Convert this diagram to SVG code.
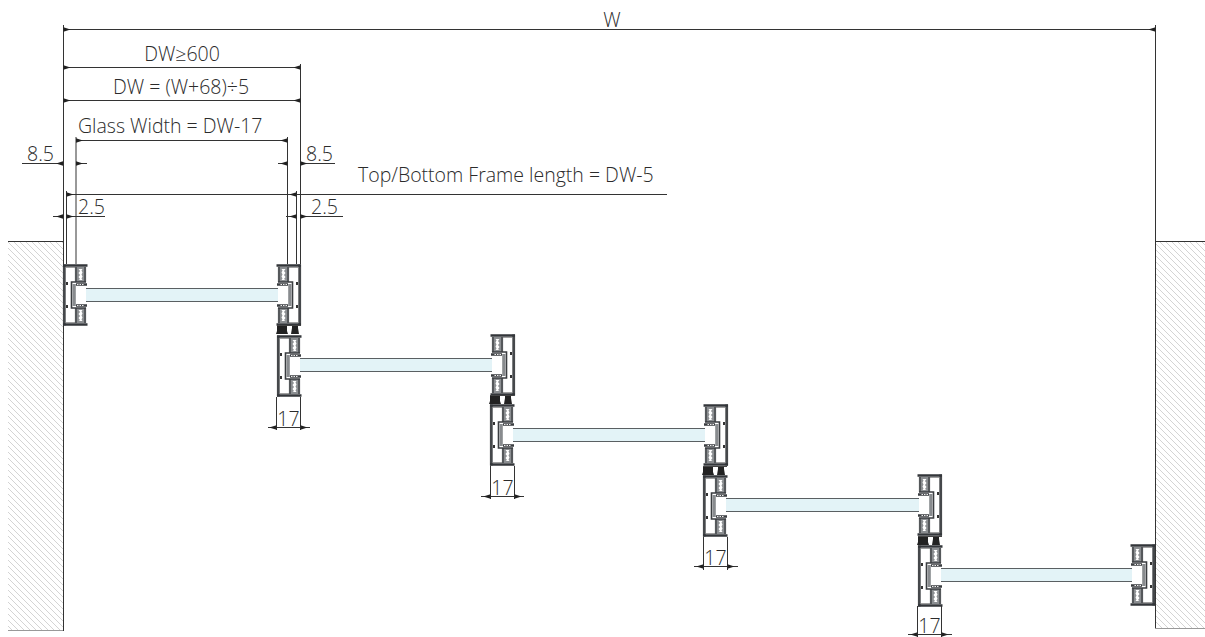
<svg xmlns="http://www.w3.org/2000/svg" xmlns:xlink="http://www.w3.org/1999/xlink" width="1205" height="637" viewBox="0 0 1205 637">
<style>
text{font-family:"Open Sans","Noto Sans","Liberation Sans",sans-serif;font-weight:300;font-size:19.5px;fill:#2b2b2b}
.d{stroke:#333;stroke-width:1;fill:none}
.a{marker-end:url(#arr)}
.glass{fill:#e3f3f7;stroke:#5a5f62;stroke-width:1}
.wall{stroke:#333;stroke-width:1;fill:none}
.edge{stroke:#999;stroke-width:1;fill:none}
</style>
<defs>
<marker id="arr" markerUnits="userSpaceOnUse" markerWidth="8" markerHeight="6" refX="7" refY="3" orient="auto"><path d="M0 3L7 0.8V5.2Z" fill="#222"/></marker>
<pattern id="hatch" patternUnits="userSpaceOnUse" width="6" height="6"><path d="M-1 -1L7 7M-7 -1L1 7M5 -1L13 7" stroke="#cfcfcf" stroke-width="0.9" fill="none"/></pattern>
<g id="profile">
<path d="M1.300 0.500V61.500" stroke="#45484b" stroke-width="2.800" fill="none"/>
<path d="M0 1.500H24.500M0 60.500H24.500" stroke="#33363a" stroke-width="2.400" fill="none"/>
<path d="M3 3.500H12M3 58.500H12" stroke="#888" stroke-width="0.800" fill="none"/>
<path d="M13 3V18M13 44V59M22 3V18M22 44V59" stroke="#55585b" stroke-width="2.200" fill="none"/>
<rect x="14" y="3" width="7" height="15" fill="#8b8e91"/><rect x="14" y="44" width="7" height="15" fill="#8b8e91"/>
<path d="M15.500 5l1.500 2l-1.500 2l1.500 2l-1.500 2l1.500 2l-1.500 1h4l-1-1.500l1-2l-1-2l1-2l-1-2l1-1.500ZM15.500 46l1.500 2l-1.500 2l1.500 2l-1.500 2l1.500 2l-1.500 1h4l-1-1.500l1-2l-1-2l1-2l-1-2l1-1.500Z" fill="#fff"/>
<path d="M23 18H8.500V44H23" stroke="#3a3d40" stroke-width="1.600" fill="#fff"/>
<path d="M9.500 20H12.800V42H9.500Z" fill="#888b8e"/>
<path d="M13 20.500H24M13 41.500H24" stroke="#3a3d40" stroke-width="2.600" fill="none"/>
<path d="M14 20.500h1.500m1 0h1.500m1 0h1.500M14 41.500h1.500m1 0h1.500m1 0h1.500" stroke="#eee" stroke-width="1"/>
<path d="M3 18h2v3H3ZM3 41h2v3H3Z" fill="#333"/>
</g>
<g id="link"><path d="M0 0h10v6l1 3H-1l1-3ZM15 0h6v3l1 6H14l1-6Z" fill="#222"/><path d="M0 0.500H24" stroke="#444"/></g>
</defs>
<g id="walls">
<rect x="8" y="241" width="55" height="389" fill="url(#hatch)"/>
<rect x="1155" y="241" width="50" height="387" fill="url(#hatch)"/>
<path class="wall" d="M8 241.500H63M63.500 25V631M1155.500 25V629M1155 241.500H1205"/>
<path class="edge" d="M8 630.500H63M1155 628.500H1205"/>
</g>
<g id="panel-1">
<rect class="glass" x="82" y="288.500" width="198" height="13"/>
<use xlink:href="#profile" href="#profile" transform="translate(63,264)"/>
<use xlink:href="#profile" href="#profile" transform="translate(301,264) scale(-1,1)"/>
</g>
<g id="panel-2">
<rect class="glass" x="296" y="358.500" width="199" height="13"/>
<use xlink:href="#link" href="#link" transform="translate(277,325)"/>
<use xlink:href="#profile" href="#profile" transform="translate(277,335)"/>
<use xlink:href="#profile" href="#profile" transform="translate(515,334) scale(-1,1)"/>
</g>
<g id="panel-3">
<rect class="glass" x="509" y="428.500" width="199" height="13"/>
<use xlink:href="#link" href="#link" transform="translate(490,395)"/>
<use xlink:href="#profile" href="#profile" transform="translate(490,404)"/>
<use xlink:href="#profile" href="#profile" transform="translate(728,404) scale(-1,1)"/>
</g>
<g id="panel-4">
<rect class="glass" x="722" y="498.500" width="199" height="13"/>
<use xlink:href="#link" href="#link" transform="translate(703,466)"/>
<use xlink:href="#profile" href="#profile" transform="translate(703,475)"/>
<use xlink:href="#profile" href="#profile" transform="translate(942,474) scale(-1,1)"/>
</g>
<g id="panel-5">
<rect class="glass" x="936" y="568.500" width="199" height="13"/>
<use xlink:href="#link" href="#link" transform="translate(918,536)"/>
<use xlink:href="#profile" href="#profile" transform="translate(918,545)"/>
<use xlink:href="#profile" href="#profile" transform="translate(1155,544) scale(-1,1)"/>
</g>
<g id="dimensions">
<path class="d" d="M300.500 64V264M76 137V264M287.500 137V264M66.500 191V264M296.500 191V264"/>
<line class="d a" x1="600" y1="29.500" x2="63.500" y2="29.500"/><line class="d a" x1="600" y1="29.500" x2="1155.500" y2="29.500"/>
<line class="d a" x1="180" y1="67.500" x2="63.500" y2="67.500"/><line class="d a" x1="180" y1="67.500" x2="300.500" y2="67.500"/>
<line class="d a" x1="180" y1="100.500" x2="63.500" y2="100.500"/><line class="d a" x1="180" y1="100.500" x2="300.500" y2="100.500"/>
<line class="d a" x1="180" y1="140.500" x2="76" y2="140.500"/><line class="d a" x1="180" y1="140.500" x2="287.500" y2="140.500"/>
<line class="d a" x1="22" y1="163.500" x2="63" y2="163.500"/><line class="d a" x1="87" y1="163.500" x2="76" y2="163.500"/>
<line class="d a" x1="278" y1="163.500" x2="287.500" y2="163.500"/><line class="d a" x1="335" y1="163.500" x2="300.500" y2="163.500"/>
<line class="d a" x1="180" y1="194.500" x2="66.500" y2="194.500"/><line class="d a" x1="180" y1="194.500" x2="296.500" y2="194.500"/>
<path class="d" d="M296.500 194.500H667"/>
<line class="d a" x1="53" y1="216.500" x2="63" y2="216.500"/><line class="d a" x1="105" y1="216.500" x2="66.500" y2="216.500"/>
<line class="d a" x1="286" y1="216.500" x2="296.500" y2="216.500"/><line class="d a" x1="343" y1="216.500" x2="300.500" y2="216.500"/>
<path class="d" d="M276.500 397V430M300.500 397V430M490.500 466V499M514.500 466V499M703.500 537V570M727.500 537V570M917.500 606V637M941.500 606V637"/>
<path class="d" d="M276.500 427.500H300.500M490.500 496.500H514.500M703.500 566.500H727.500M917.500 634.500H941.500"/>
<line class="d a" x1="268" y1="427.500" x2="276.500" y2="427.500"/><line class="d a" x1="310" y1="427.500" x2="300.500" y2="427.500"/>
<line class="d a" x1="481" y1="496.500" x2="490.500" y2="496.500"/><line class="d a" x1="524" y1="496.500" x2="514.500" y2="496.500"/>
<line class="d a" x1="694" y1="566.500" x2="703.500" y2="566.500"/><line class="d a" x1="738" y1="566.500" x2="727.500" y2="566.500"/>
<line class="d a" x1="908" y1="634.500" x2="917.500" y2="634.500"/><line class="d a" x1="952" y1="634.500" x2="941.500" y2="634.500"/>
</g>
<g id="labels">
<text x="612" y="27" text-anchor="middle">W</text>
<text x="182" y="61" text-anchor="middle">DW≥600</text>
<text x="181" y="94" text-anchor="middle">DW = (W+68)÷5</text>
<text x="78" y="133">Glass Width = DW-17</text>
<text x="27" y="160.500">8.5</text>
<text x="306" y="160.500">8.5</text>
<text x="358" y="182">Top/Bottom Frame length = DW-5</text>
<text x="78" y="214">2.5</text>
<text x="311" y="214">2.5</text>
<text x="288.500" y="426" text-anchor="middle">17</text>
<text x="502.500" y="495" text-anchor="middle">17</text>
<text x="715.500" y="565" text-anchor="middle">17</text>
<text x="929.500" y="633" text-anchor="middle">17</text>
</g>
</svg>
